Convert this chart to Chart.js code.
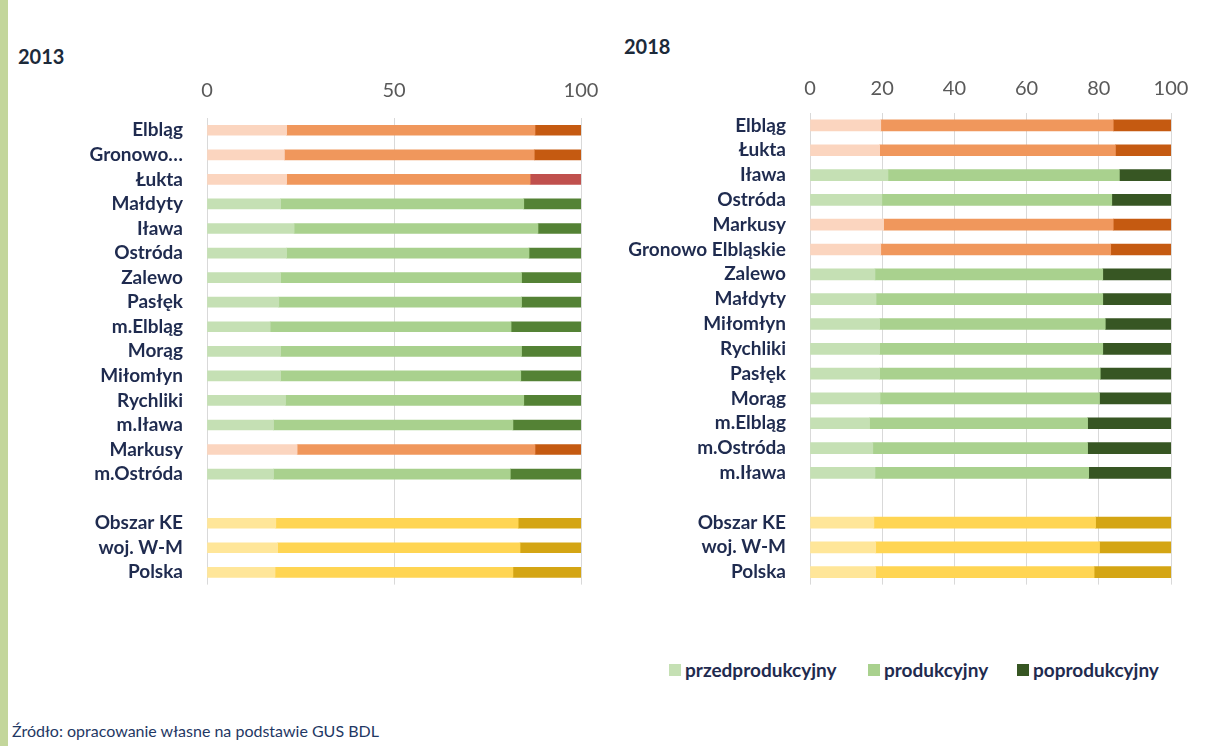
<!DOCTYPE html>
<html>
<head>
<meta charset="utf-8">
<script src="https://cdn.jsdelivr.net/npm/chart.js@4/dist/chart.umd.min.js"></script>
<style>
  body { margin: 0; width: 1226px; height: 746px; overflow: hidden; position: relative; background: #fff; font-family: Lato, sans-serif; }
  .stripe { position: absolute; left: 0; top: 0; width: 8px; height: 746px; background: #c3d69b; }
  .year { position: absolute; font-size: 20px; line-height: 24px; font-weight: bold; color: #1c2a3a; }
  .box { position: absolute; top: 0; }
  .legend-item { position: absolute; top: 658px; font-size: 19px; line-height: 24px; font-weight: bold; color: #1f2b4f; }
  .legend-item span { display: inline-block; width: 12px; height: 12px; margin-right: 4px; vertical-align: 1px; }
  .source { position: absolute; left: 12px; top: 720px; font-size: 16px; line-height: 22px; color: #1f3864; }
</style>
</head>
<body>
<div class="stripe"></div>
<div class="year" style="left:18px; top:44px;">2013</div>
<div class="year" style="left:624px; top:34px;">2018</div>
<div class="box" style="left:0; width:600px; height:620px;"><canvas id="chart2013" width="600" height="620"></canvas></div>
<div class="box" style="left:600px; width:626px; height:620px;"><canvas id="chart2018" width="626" height="620"></canvas></div>
<div class="legend-item" style="left:669px;"><span style="background:#c5e0b4"></span>przedprodukcyjny</div>
<div class="legend-item" style="left:868px;"><span style="background:#a9d18e"></span>produkcyjny</div>
<div class="legend-item" style="left:1017px;"><span style="background:#375623"></span>poprodukcyjny</div>
<div class="source">Źródło: opracowanie własne na podstawie GUS BDL</div>

<script>
// 2013
const categories2013 = ['Elbląg', 'Gronowo…', 'Łukta', 'Małdyty', 'Iława', 'Ostróda', 'Zalewo', 'Pasłęk', 'm.Elbląg', 'Morąg',
  'Miłomłyn', 'Rychliki', 'm.Iława', 'Markusy', 'm.Ostróda', '', 'Obszar KE', 'woj. W-M', 'Polska'];
// o = orange, r = orange with red last part, g = green, y = yellow
const groups2013 = ['o', 'o', 'r', 'g', 'g', 'g', 'g', 'g', 'g', 'g', 'g', 'g', 'g', 'o', 'g', '', 'y', 'y', 'y'];
const pre2013 = [21.3, 20.7, 21.3, 19.7, 23.3, 21.3, 19.7, 19.2, 16.9, 19.7, 19.7, 21.0, 17.8, 24.1, 17.8, null, 18.4, 18.9, 18.2];
const prod2013 = [66.4, 66.8, 65.1, 65.0, 65.2, 64.8, 64.4, 64.9, 64.4, 64.4, 64.2, 63.7, 64.0, 63.6, 63.3, null, 64.8, 64.8, 63.6];
const post2013 = [12.3, 12.5, 13.6, 15.3, 11.5, 13.9, 15.9, 15.9, 18.7, 15.9, 16.1, 15.3, 18.2, 12.3, 18.9, null, 16.8, 16.3, 18.2];
const ticks2013 = [0, 50, 100];

// 2018
const categories2018 = ['Elbląg', 'Łukta', 'Iława', 'Ostróda', 'Markusy', 'Gronowo Elbląskie', 'Zalewo', 'Małdyty', 'Miłomłyn', 'Rychliki',
  'Pasłęk', 'Morąg', 'm.Elbląg', 'm.Ostróda', 'm.Iława', '', 'Obszar KE', 'woj. W-M', 'Polska'];
const groups2018 = ['o', 'o', 'g', 'g', 'o', 'o', 'g', 'g', 'g', 'g', 'g', 'g', 'g', 'g', 'g', '', 'y', 'y', 'y'];
const pre2018 = [19.6, 19.3, 21.6, 19.9, 20.4, 19.6, 18.0, 18.3, 19.3, 19.3, 19.3, 19.4, 16.5, 17.4, 18.0, null, 17.7, 18.2, 18.2];
const prod2018 = [64.4, 65.3, 64.1, 63.7, 63.6, 63.7, 63.1, 62.8, 62.5, 61.8, 61.1, 60.8, 60.4, 59.5, 59.2, null, 61.4, 62.0, 60.5];
const post2018 = [16.0, 15.4, 14.3, 16.4, 16.0, 16.7, 18.9, 18.9, 18.2, 18.9, 19.6, 19.8, 23.1, 23.1, 22.8, null, 20.9, 19.8, 21.3];
const ticks2018 = [0, 20, 40, 60, 80, 100];

const preColors = { o: '#fbd5bf', r: '#fbd5bf', g: '#c5e0b4', y: '#ffe699' };
const prodColors = { o: '#f0975c', r: '#f0975c', g: '#a9d18e', y: '#ffd553' };

function makeChart(id, labels, groups, pre, prod, post, ticks, post3, layout) {
  const postColors = { o: '#c55a11', r: '#c0504d', g: post3, y: '#d4a514' };
  const pick = map => groups.map(g => map[g] || 'rgba(0,0,0,0)');
  new Chart(document.getElementById(id), {
    type: 'bar',
    data: {
      labels: labels,
      datasets: [
        { label: 'przedprodukcyjny', data: pre, backgroundColor: pick(preColors) },
        { label: 'produkcyjny', data: prod, backgroundColor: pick(prodColors) },
        { label: 'poprodukcyjny', data: post, backgroundColor: pick(postColors) },
      ],
    },
    options: {
      indexAxis: 'y',
      responsive: false,
      animation: false,
      datasets: { bar: { barThickness: layout.bar, borderWidth: 0 } },
      layout: { padding: { top: 0, left: 0, right: layout.right, bottom: layout.bottom } },
      plugins: { legend: { display: false }, tooltip: { enabled: false } },
      scales: {
        x: {
          position: 'top',
          stacked: true,
          min: ticks[0],
          max: ticks[ticks.length - 1],
          afterFit: s => {
            s.height = layout.top;
            s.paddingLeft = 0;
            s.paddingRight = 0;
          },
          ticks: { stepSize: ticks[1] - ticks[0], padding: layout.tickPad, color: '#595959', font: { family: 'Lato', size: 20 } },
          grid: { color: '#d9d9d9', drawTicks: false },
          border: { display: false },
        },
        y: {
          stacked: true,
          afterFit: s => { s.width = layout.left; },
          ticks: { autoSkip: false, padding: 24, color: '#1f2b4f', font: { family: 'Lato', size: 19, weight: 'bold' } },
          grid: { display: false, drawTicks: false },
          border: { display: false },
        },
      },
    },
  });
}

makeChart('chart2013', categories2013, groups2013, pre2013, prod2013, post2013, ticks2013, '#548235',
  { top: 118, left: 207, right: 19, bottom: 14, bar: 10, tickPad: 15 });
makeChart('chart2018', categories2018, groups2018, pre2018, prod2018, post2018, ticks2018, '#375623',
  { top: 113, left: 210, right: 55, bottom: 15, bar: 11, tickPad: 12 });
</script>
</body>
</html>
